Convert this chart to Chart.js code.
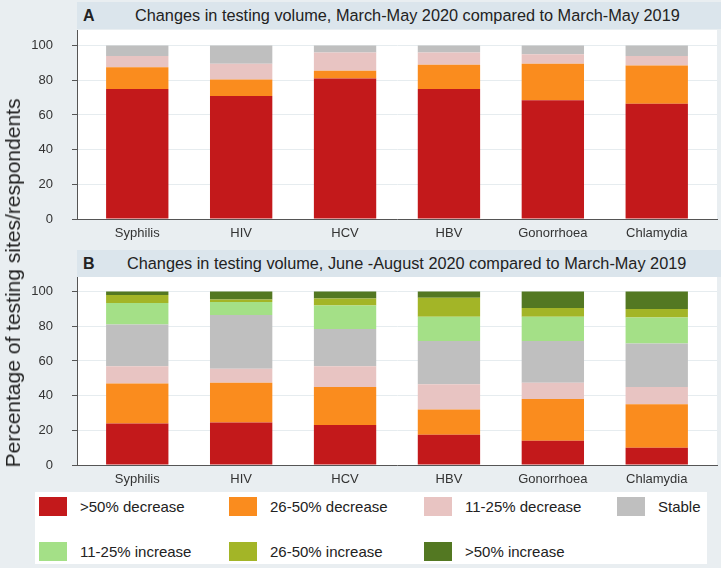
<!DOCTYPE html>
<html>
<head>
<meta charset="utf-8">
<script src="https://cdn.jsdelivr.net/npm/chart.js@4.4.1/dist/chart.umd.min.js"></script>
<style>
  html, body { margin: 0; padding: 0; }
  body {
    width: 721px; height: 568px; overflow: hidden; position: relative;
    background: #e9eef1;
    font-family: "Liberation Sans", Arial, sans-serif;
    color: #222;
  }
  .panel { position: absolute; left: 0; width: 721px; height: 246px; }
  .title-bar {
    position: absolute; left: 77px; width: 644px; height: 27px;
    background: #dbe5ec; line-height: 27px; font-size: 16.3px;
  }
  .title-bar .letter { position: absolute; left: 6px; font-weight: bold; font-size: 16px; }
  .title-bar .text { position: absolute; white-space: nowrap; }
  #ytitle {
    position: absolute; left: 13px; top: 283px; white-space: nowrap;
    font-size: 21px; transform: translate(-50%, -50%) rotate(-90deg);
  }
  #legend {
    position: absolute; left: 35px; top: 492px; width: 672px; height: 72px;
    background: #fff;
  }
  .leg-item { position: absolute; height: 19px; }
  .leg-item .sw { position: absolute; left: 0; top: 0; width: 28px; height: 19px; }
  .leg-item .lbl { position: absolute; left: 41px; top: 0; line-height: 20px; font-size: 15px; white-space: nowrap; }
</style>
</head>
<body>
<div class="panel" style="top:0"><canvas id="chartA"></canvas></div>
<div class="panel" style="top:246px"><canvas id="chartB"></canvas></div>

<div class="title-bar" style="top:2px">
  <span class="letter">A</span>
  <span class="text" style="left:58px">Changes in testing volume, March-May 2020 compared to March-May 2019</span>
</div>
<div class="title-bar" style="top:250px">
  <span class="letter">B</span>
  <span class="text" style="left:50px">Changes in testing volume, June -August 2020 compared to March-May 2019</span>
</div>

<div id="ytitle">Percentage of testing sites/respondents</div>
<div id="legend"></div>

<script>
const categories = ['Syphilis', 'HIV', 'HCV', 'HBV', 'Gonorrhoea', 'Chlamydia'];
const yTicks = [0, 20, 40, 60, 80, 100];

const seriesLabels = ['>50% decrease', '26-50% decrease', '11-25% decrease', 'Stable',
                      '11-25% increase', '26-50% increase', '>50% increase'];
const seriesColors = ['#c3191b', '#fa8c1e', '#e8c4c2', '#bfbfbf', '#a4e087', '#a3b527', '#537822'];

// Panel A: March-May 2020 vs March-May 2019
const aDec50 = [75, 71, 81, 75, 68.5, 66.5];
const aDec26 = [12.5, 9.5, 4.5, 14, 21, 22];
const aDec11 = [6.5, 9, 10.5, 7, 5.5, 5.5];
const aStable = [6, 10.5, 4, 4, 5, 6];

// Panel B: June-August 2020 vs March-May 2019
const bDec50 = [24, 24.5, 23, 17.5, 14, 10];
const bDec26 = [23, 23, 22, 14.5, 24, 25];
const bDec11 = [10, 8, 12, 14.5, 9.5, 10];
const bStable = [24, 31, 21.5, 25, 24, 25];
const bInc11 = [12.5, 7.5, 13.5, 14, 14, 15];
const bInc26 = [4.5, 1.5, 4, 11, 5, 5];
const bInc50 = [2, 4.5, 4, 3.5, 9.5, 10];

const plotBg = {
    id: 'plotBg',
    beforeDraw(chart) {
        const { ctx, chartArea: a } = chart;
        ctx.save();
        ctx.fillStyle = '#ffffff';
        ctx.fillRect(a.left, a.top, a.right - a.left, a.bottom - a.top);
        ctx.restore();
    }
};

function makeChart(id, seriesData) {
    const datasets = seriesData.map((d, i) => ({
        label: seriesLabels[i],
        data: d,
        backgroundColor: seriesColors[i],
        borderWidth: 0,
        barPercentage: 0.6,
        categoryPercentage: 1
    }));

    return new Chart(document.getElementById(id), {
        type: 'bar',
        data: { labels: categories.map((c, i) => i), datasets },
        options: {
            responsive: true,
            maintainAspectRatio: false,
            animation: false,
            layout: { padding: { top: 30, left: 0, right: 4, bottom: 0 } },
            plugins: { legend: { display: false }, tooltip: { enabled: false } },
            scales: {
                x: {
                    type: 'linear',
                    stacked: true,
                    offset: false,
                    bounds: 'ticks',
                    min: -0.58,
                    max: 5.58,
                    grid: { display: false, drawTicks: false, offset: false },
                    border: { display: true, color: '#555' },
                    afterBuildTicks: s => { s.ticks = categories.map((c, i) => ({ value: i })); },
                    afterFit: s => { s.height = 27; },
                    ticks: {
                        autoSkip: false, maxRotation: 0, padding: 7,
                        color: '#333', font: { family: 'Liberation Sans', size: 13 },
                        callback: v => categories[v]
                    }
                },
                y: {
                    stacked: true,
                    min: 0,
                    max: 109,
                    afterBuildTicks: s => { s.ticks = yTicks.map(v => ({ value: v })); },
                    afterFit: s => { s.width = 77; },
                    grid: { color: '#e6ecef', tickColor: '#555', tickLength: 5 },
                    border: { display: true, color: '#555' },
                    ticks: {
                        padding: 19,
                        color: '#333', font: { family: 'Liberation Sans', size: 13 }
                    }
                }
            }
        },
        plugins: [plotBg]
    });
}

makeChart('chartA', [aDec50, aDec26, aDec11, aStable]);
makeChart('chartB', [bDec50, bDec26, bDec11, bStable, bInc11, bInc26, bInc50]);

// legend, 4 columns x 2 rows
const legendCols = [4, 194, 389, 582];
const legendRows = [5, 50];
const legend = document.getElementById('legend');
seriesLabels.forEach((lab, i) => {
    const item = document.createElement('div');
    item.className = 'leg-item';
    item.style.left = legendCols[i % 4] + 'px';
    item.style.top = legendRows[Math.floor(i / 4)] + 'px';
    item.innerHTML = `<span class="sw" style="background:${seriesColors[i]}"></span><span class="lbl"></span>`;
    item.querySelector('.lbl').textContent = lab;
    legend.appendChild(item);
});
</script>
</body>
</html>
